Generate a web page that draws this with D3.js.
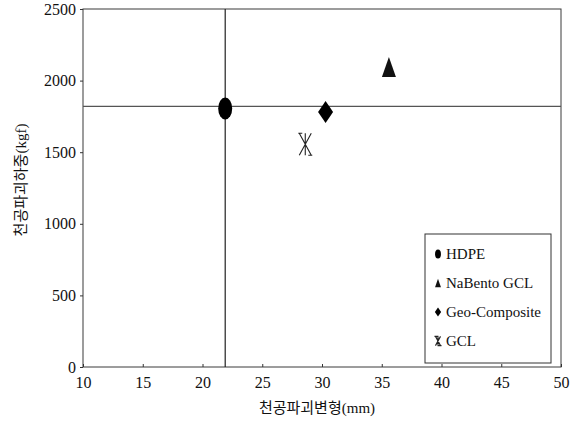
<!DOCTYPE html>
<html>
<head>
<meta charset="utf-8">
<script src="https://cdn.jsdelivr.net/npm/d3@7"></script>
<style>
  body { margin: 0; background: #fff; }
  svg text { font-family: "Liberation Serif", "Noto Sans CJK KR", serif; fill: #111; }
</style>
</head>
<body>
<svg id="chart" width="577" height="421"></svg>
<script>
// data
var series = ['HDPE', 'NaBento GCL', 'Geo-Composite', 'GCL']
var xValues = [21.9, 35.6, 30.3, 28.6]
var yValues = [1805, 2095, 1780, 1555]
var shapes = ['ellipse', 'triangle', 'diamond', 'star']
var xTicks = [10, 15, 20, 25, 30, 35, 40, 45, 50]
var yTicks = [0, 500, 1000, 1500, 2000, 2500]
var refX = 21.9
var refY = 1820

var svg = d3.select('#chart')
  , pLeft = 83, pRight = 561, pTop = 9, pBottom = 367

var x = d3.scaleLinear().domain([10, 50]).range([pLeft, pRight])
var y = d3.scaleLinear().domain([0, 2500]).range([pBottom, pTop])

//frame
svg.append('rect')
  .attr('x', pLeft).attr('y', pTop)
  .attr('width', pRight - pLeft).attr('height', pBottom - pTop)
  .attr('fill', 'none').attr('stroke', '#3a3a3a').attr('stroke-width', 1)

//axes
var xAxis = svg.append('g')
  .attr('transform', 'translate(0,' + pBottom + ')')
  .call(d3.axisBottom(x).tickValues(xTicks).tickSizeInner(-3).tickSizeOuter(0).tickPadding(10))
var yAxis = svg.append('g')
  .attr('transform', 'translate(' + pLeft + ',0)')
  .call(d3.axisLeft(y).tickValues(yTicks).tickFormat(d3.format('d'))
    .tickSizeInner(3).tickSizeOuter(0).tickPadding(4))

;[xAxis, yAxis].forEach(function (g) {
  g.select('.domain').remove()
  g.selectAll('line').attr('stroke', '#333')
  g.selectAll('text').attr('font-size', 16).attr('fill', '#111')
    .style('font-family', '"Liberation Serif", serif')
})

//reference lines
svg.append('line')
  .attr('x1', x(refX)).attr('x2', x(refX))
  .attr('y1', pTop).attr('y2', pBottom)
  .attr('stroke', '#222').attr('stroke-width', 1.2)
svg.append('line')
  .attr('x1', pLeft).attr('x2', pRight)
  .attr('y1', y(refY)).attr('y2', y(refY))
  .attr('stroke', '#555').attr('stroke-width', 1.2)

//marker builder
function marker (g, shape, s) {
  if (shape === 'ellipse') {
    g.append('ellipse').attr('rx', 7 * s).attr('ry', 11 * s).attr('fill', '#000')
  } else if (shape === 'triangle') {
    g.append('path')
      .attr('d', 'M0,' + (-10 * s) + 'L' + (7 * s) + ',' + (10 * s) + 'L' + (-7 * s) + ',' + (10 * s) + 'Z')
      .attr('fill', '#111')
  } else if (shape === 'diamond') {
    g.append('path')
      .attr('d', 'M0,' + (-11 * s) + 'L' + (7.5 * s) + ',0L0,' + (11 * s) + 'L' + (-7.5 * s) + ',0Z')
      .attr('fill', '#000')
  } else {
    var h = 11 * s, w = 6 * s
    g.append('path')
      .attr('d', 'M' + (-w) + ',' + (-h) + 'L' + w + ',' + h +
        'M' + w + ',' + (-h) + 'L' + (-w) + ',' + h +
        'M0,' + (-h) + 'L0,' + h +
        'M' + (-w - 1) + ',' + (-h) + 'L' + (-w + 3) + ',' + (-h) +
        'M' + (w - 3) + ',' + (h) + 'L' + (w + 1) + ',' + (h))
      .attr('stroke', '#222').attr('stroke-width', 1.1).attr('fill', 'none')
  }
}

//points
svg.selectAll('.pt')
  .data(series)
  .enter()
  .append('g')
  .attr('class', 'pt')
  .attr('transform', function (d, i) {
    return 'translate(' + x(xValues[i]) + ',' + y(yValues[i]) + ')'
  })
  .each(function (d, i) { marker(d3.select(this), shapes[i], 1) })

//legend
var lg = svg.append('g').attr('transform', 'translate(425,234)')
lg.append('rect')
  .attr('width', 126).attr('height', 129)
  .attr('fill', '#fff').attr('stroke', '#333').attr('stroke-width', 1)
lg.selectAll('.item')
  .data(series)
  .enter()
  .append('g')
  .attr('class', 'item')
  .attr('transform', function (d, i) { return 'translate(13,' + (25 + i * 29) + ')' })
  .each(function (d, i) {
    var g = d3.select(this)
    marker(g.append('g').attr('transform', 'translate(0,-5)'), shapes[i], 0.42)
    g.append('text').attr('x', 8).attr('y', 0).attr('font-size', 15).text(d)
  })

//axis titles
svg.append('text')
  .attr('x', (pLeft + pRight) / 2 - 5).attr('y', 413)
  .attr('text-anchor', 'middle')
  .attr('font-size', 15)
  .text('천공파괴변형(mm)')
svg.append('text')
  .attr('transform', 'translate(26,' + 180 + ') rotate(-90)')
  .attr('text-anchor', 'middle')
  .attr('font-size', 15)
  .text('천공파괴하중(kgf)')
</script>
</body>
</html>
